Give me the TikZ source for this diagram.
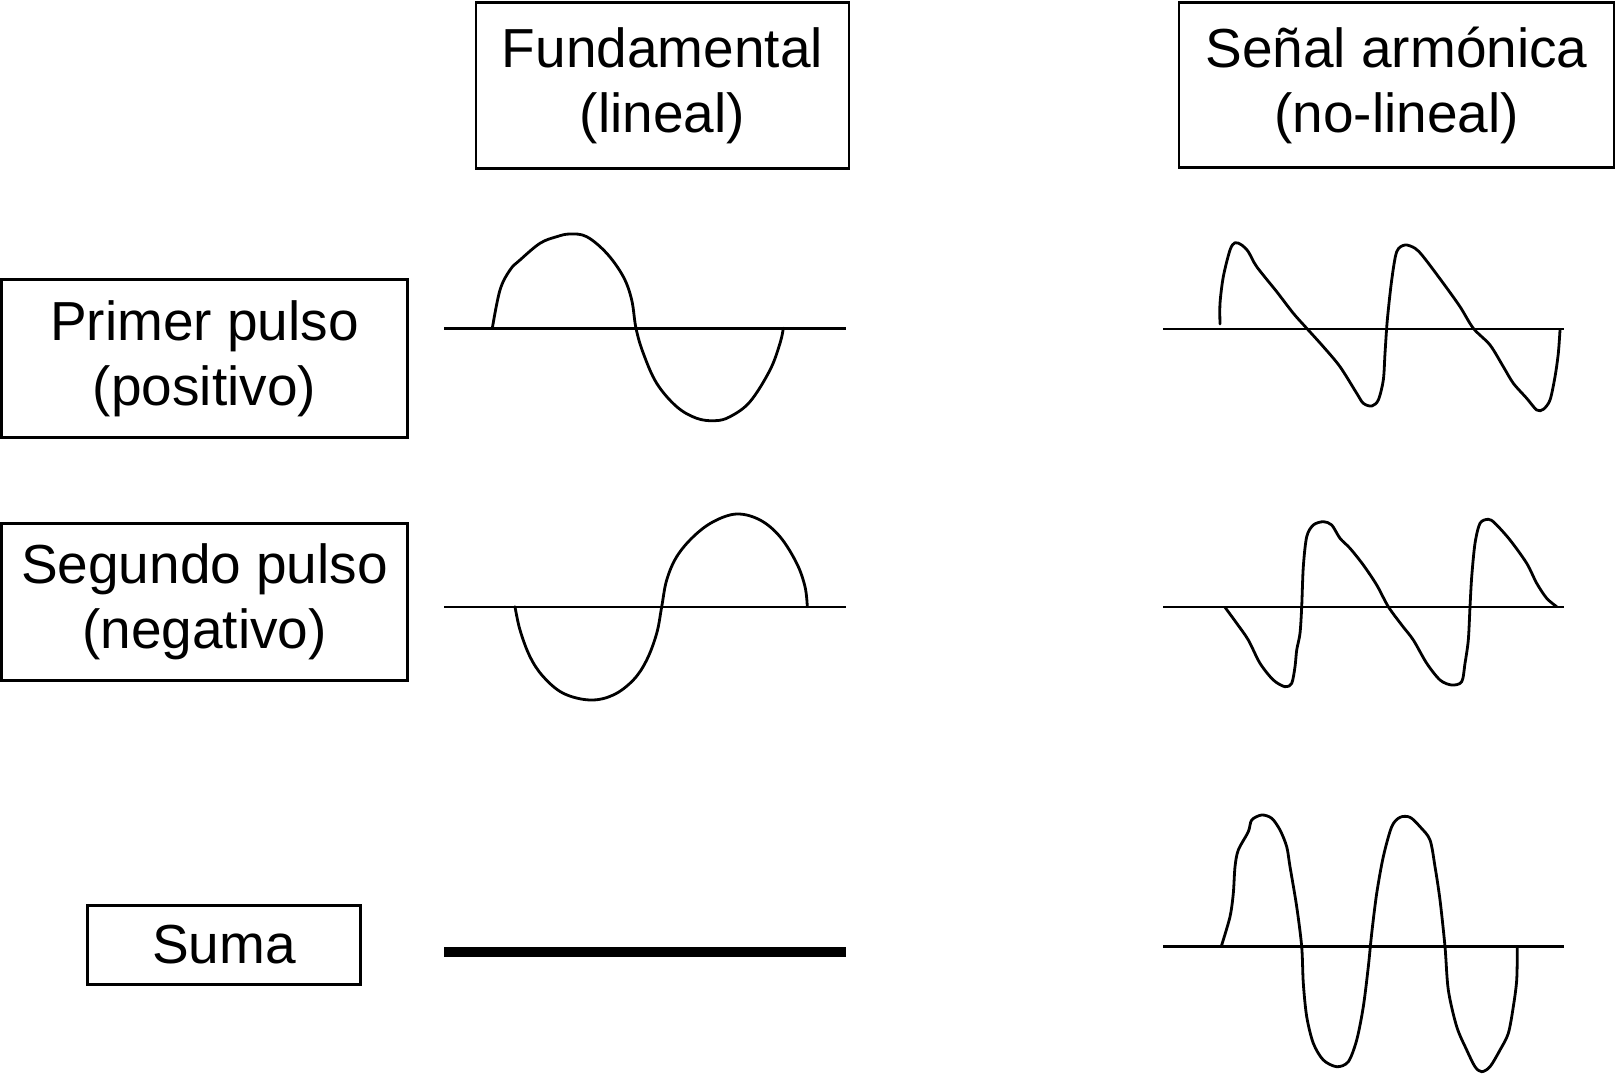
\documentclass[tikz,border=0pt]{standalone}
\usepackage{fontspec}
\setmainfont{Liberation Sans}
\begin{document}
\begin{tikzpicture}[x=1pt,y=-1pt,
  lbl/.style={draw,line width=2.6pt,align=center,inner sep=0pt,font=\fontsize{55}{65}\selectfont},
  axis/.style={line width=2.6pt},
  wave/.style={line width=2.8pt,line join=round,line cap=round},
  sumline/.style={line width=10pt}]
\useasboundingbox (0,0) rectangle (1616,1075);
% header boxes
\node[lbl,minimum width=373pt,minimum height=166pt] (fund) at (662.5,85.5) {Fundamental\\(lineal)};
\node[lbl,minimum width=435pt,minimum height=165pt] (arm) at (1396.5,85) {Señal armónica\\(no-lineal)};
% row boxes
\node[lbl,minimum width=406pt,minimum height=158pt] (p1) at (204.5,358.5) {Primer pulso\\(positivo)};
\node[lbl,minimum width=406pt,minimum height=157pt] (p2) at (204.5,602) {Segundo pulso\\(negativo)};
\node[lbl,minimum width=273pt,minimum height=79pt] (suma) at (224,945) {Suma};
% axes
\coordinate (a1l) at (444,328.5); \coordinate (a1r) at (846,328.5);
\coordinate (a2l) at (444,607); \coordinate (a2r) at (846,607);
\coordinate (a3l) at (444,952); \coordinate (a3r) at (846,952);
\coordinate (b1l) at (1163,329); \coordinate (b1r) at (1564,329);
\coordinate (b2l) at (1163,607); \coordinate (b2r) at (1564,607);
\coordinate (b3l) at (1163,946.5); \coordinate (b3r) at (1564,946.5);
\draw[axis] (a1l) -- (a1r);
\draw[axis] (a2l) -- (a2r);
\draw[sumline] (a3l) -- (a3r);
\draw[axis] (b1l) -- (b1r);
\draw[axis] (b2l) -- (b2r);
\draw[axis] (b3l) -- (b3r);
% fundamental, first pulse
\draw[wave] plot[smooth,tension=0.6] coordinates {
(492.3,328.3)(500,290)(510,270)(520,260)(540,243.3)(556.7,236.7)(570,234)(586.7,236.7)
(606.7,253.3)(623.3,276.7)(631.7,300)(636,328.3)(643.3,353.3)(656.7,383.3)(676.7,406.7)
(696.7,418.3)(715,420.7)(730,416.7)(750,401.7)(770,370)(780,343.3)(783.3,328.3)};
% fundamental, second pulse
\draw[wave] plot[smooth,tension=0.6] coordinates {
(515,606.7)(520,630)(530,656.7)(543.3,676.7)(563.3,693.3)(590,700)(613.3,695)(633.3,680)
(646.7,660)(656.7,633.3)(661.7,606.7)(666.7,580)(676.7,556.7)(693.3,536.7)(713.3,521.7)
(736.7,514)(760,520)(780,536.7)(796.7,563.3)(805,586.7)(807.3,606.7)};
% harmonic, first pulse
\draw[wave] plot[smooth,tension=0.5] coordinates {
(1220,324)(1220,303.3)(1223.3,276.7)(1230,250)(1235,242.7)(1241.7,245)(1248.3,251.7)
(1256.7,266.7)(1276.7,291.7)(1293.3,313.3)(1306.7,328.3)(1323.3,346.7)(1340,366.7)
(1356.7,393.3)(1363.3,403.3)(1371.7,406)(1378.3,400)(1383.3,380)(1385,353.3)(1387.3,320)
(1391.7,280)(1396.7,251.7)(1405,245)(1415,248.3)(1423.3,256.7)(1443.3,283.3)(1460,306.7)
(1473.3,328.3)(1490,345)(1503.3,366.7)(1513.3,383.3)(1526.7,398.3)(1536.7,410)(1543.3,409.3)
(1550,400)(1555,376.7)(1558.3,353.3)(1560,330)};
% harmonic, second pulse
\draw[wave] plot[smooth,tension=0.5] coordinates {
(1225,607.3)(1236.7,623.3)(1248.3,640)(1260,663.3)(1273.3,680)(1285,686.7)(1291.7,683.3)
(1295,666.7)(1296.7,650)(1300,633.3)(1301.7,606.7)(1303.3,566.7)(1306.7,536.7)(1313.3,525)
(1323.3,521.7)(1331.7,525)(1340,538.3)(1350,548.3)(1363.3,565)(1376.7,585)(1388.3,606.7)
(1401.7,625)(1413.3,640)(1426.7,663.3)(1440,680)(1451.7,685)(1461.7,681.7)(1465,663.3)
(1468.3,640)(1470,606.7)(1471.7,576.7)(1475,543.3)(1480,523.3)(1488.3,519.3)(1495,523.3)
(1510,540)(1526.7,563.3)(1536.7,583.3)(1546.7,598.3)(1556.7,606.7)};
% harmonic, sum
\draw[wave] plot[smooth,tension=0.5] coordinates {
(1221.7,945)(1230,916.7)(1233.3,893.3)(1235,866.7)(1238.3,850)(1248.3,831.7)(1251.7,820)
(1261.7,815)(1271.7,818.3)(1280,830)(1286.7,846.7)(1290,866.7)(1296.7,906.7)(1301.7,946.7)
(1303.3,983.3)(1306.7,1016.7)(1313.3,1043.3)(1323.3,1060)(1336.7,1066.7)(1348.3,1061.7)
(1356.7,1040)(1363.3,1006.7)(1368.3,966.7)(1371.7,933.3)(1376.7,893.3)(1383.3,856.7)
(1391.7,826.7)(1400,817.3)(1410,817.3)(1420,826.7)(1430,840)(1435,866.7)(1440,900)
(1445,946.7)(1448.3,990)(1456.7,1026.7)(1466.7,1050)(1475,1066.7)(1481.7,1071.7)(1490,1066.7)
(1500,1050)(1508.3,1033.3)(1513.3,1006.7)(1516.7,980)(1517.3,948.3)};
\end{tikzpicture}
\end{document}
